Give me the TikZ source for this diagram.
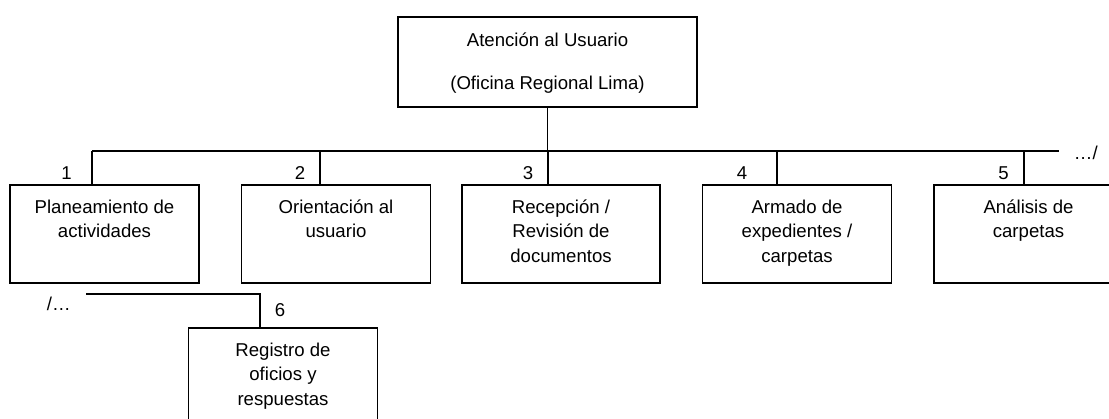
\documentclass[tikz,border=0pt]{standalone}
\usepackage{fontspec}
\setmainfont{Liberation Sans}
\usetikzlibrary{positioning, calc}

\begin{document}
\begin{tikzpicture}[
    x=1pt, y=-1pt,
    font=\fontsize{18.6}{24.5}\selectfont,
    line width=1.9pt,
    unit/.style={draw, minimum width=189pt, minimum height=98.5pt, inner sep=0pt},
    txt/.style={align=center, inner sep=0pt},
    num/.style={inner sep=0pt, anchor=base}
]
\clip (0,0) rectangle (1109,419);

% jefatura
\node[unit, minimum width=299pt, minimum height=90pt] (head) at (547.5,62) {};
\node[txt, below=15.5pt of head.north] (thead) {Atención al Usuario\\[19pt](Oficina Regional Lima)};

% areas
\node[unit] (b1) at (104.5,234) {};
\node[unit] (b2) at (336,234) {};
\node[unit, minimum width=198pt] (b3) at (561,234) {};
\node[unit] (b4) at (797,234) {};
\node[unit] (b5) at (1028.5,234) {};
\node[unit] (b6) at (283,377) {};

\node[txt, below=15pt of b1.north] (t1) {Planeamiento de\\actividades};
\node[txt, below=15pt of b2.north] (t2) {Orientación al\\usuario};
\node[txt, below=15pt of b3.north] (t3) {Recepción /\\Revisión de\\documentos};
\node[txt, below=15pt of b4.north] (t4) {Armado de\\expedientes /\\carpetas};
\node[txt, below=15pt of b5.north] (t5) {Análisis de\\carpetas};
\node[txt, below=15pt of b6.north] (t6) {Registro de\\oficios y\\respuestas};

% lineas
\coordinate (busL) at (92,151);
\coordinate (busR) at (1059,151);
\draw (head.south) -- (head.south |- busL);
\draw (busL) -- (busR);
\foreach \n/\x in {1/92, 2/320, 3/548, 4/777, 5/1024} {
    \coordinate (j\n) at (\x,151);
    \draw (j\n) -- (j\n |- b\n.north);
}
\coordinate (k0) at (86,294);
\coordinate (k6) at (260,294);
\draw (k0) -- (k6) -- (k6 |- b6.north);

% numeros
\node[num] (n1) at (66.5,180) {1};
\node[num] (n2) at (300,180) {2};
\node[num] (n3) at (528,180) {3};
\node[num] (n4) at (742,180) {4};
\node[num] (n5) at (1003.5,180) {5};
\node[num] (n6) at (280,317) {6};
\node[num, anchor=base west] (cont) at (1073,160) {…/};
\node[num, anchor=base west] (sigue) at (46,311) {/…};

\end{tikzpicture}
\end{document}
